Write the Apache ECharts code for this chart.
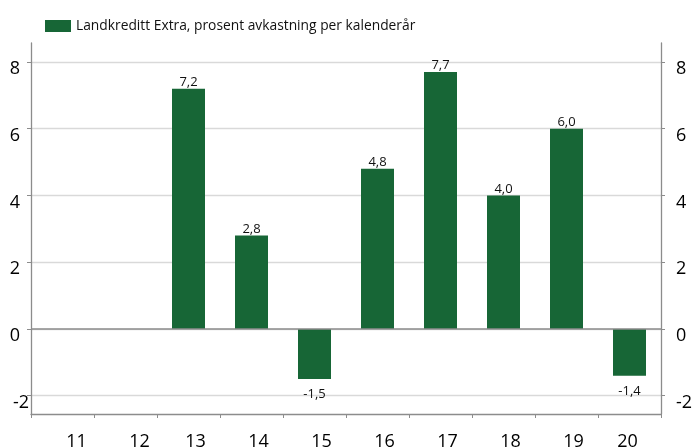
<!DOCTYPE html>
<html><head><meta charset="utf-8">
<script src="https://cdn.jsdelivr.net/npm/echarts@6/dist/echarts.min.js"></script>
<style>html,body{margin:0;padding:0;background:#fff}#c{width:692px;height:447px}</style>
</head><body><div id="c"></div>
<script>
var categories = ['11','12','13','14','15','16','17','18','19','20'];
var values = [null, null, 7.2, 2.8, -1.5, 4.8, 7.7, 4.0, 6.0, -1.4];
var yTicks = [-2, 0, 2, 4, 6, 8];
var seriesName = 'Landkreditt Extra, prosent avkastning per kalenderår';

var FONT = '"Open Sans", "Noto Sans", sans-serif';
var chart = echarts.init(document.getElementById('c'), null, {renderer: 'canvas'});
var AX = '#8c8c8c';
function yAxisDef(pos) {
  var left = pos === 'left';
  return {
    type: 'value', min: -2.55, max: 8.57, position: pos,
    axisLine: {show: true, onZero: false, lineStyle: {color: AX, width: 1.3}},
    axisTick: {show: true, length: 4, customValues: yTicks, lineStyle: {color: AX}},
    axisLabel: {
      customValues: yTicks, margin: left ? 2 : 15,
      formatter: function (v) {
        if (!left) return '{n|' + v + '}';
        return v === -2 ? '{m|' + v + '}' : '{n|' + v + '}';
      },
      rich: {
        n: {color: '#000', fontSize: 18, fontFamily: FONT, padding: left ? [14, 9, 0, 0] : [14, 0, 0, 0]},
        m: {color: '#000', fontSize: 18, fontFamily: FONT, padding: [14, 0, 0, 0]}
      }
    },
    splitLine: left ? {show: true, showMinLine: true,
      lineStyle: {color: '#d9d9d9', width: 1.3}} : {show: false}
  };
}
var lastIdx = categories.length - 1;
chart.setOption({
  animation: false,
  textStyle: {fontFamily: FONT},
  legend: {
    left: 40, top: 14, itemWidth: 26, itemHeight: 12, itemGap: 12,
    textStyle: {fontSize: 13.8, color: '#111', fontFamily: FONT},
    data: [{name: seriesName, icon: 'rect'}]
  },
  grid: {left: 31, right: 31, top: 43, bottom: 33, containLabel: false, outerBoundsMode: 'none'},
  xAxis: {
    type: 'category', data: categories,
    axisLine: {show: true, onZero: false, lineStyle: {color: AX, width: 1.3}},
    axisTick: {show: true, length: 4, alignWithLabel: false, lineStyle: {color: AX}},
    axisLabel: {
      margin: 19, interval: 0,
      formatter: function (v, i) {
        if (i < 2) return '{f|' + v + '}';
        if (i === lastIdx) return '{l|' + v + '}';
        return '{m|' + v + '}';
      },
      rich: {
        f: {color: '#000', fontSize: 18, fontFamily: FONT, padding: [0, 0, 0, 28]},
        m: {color: '#000', fontSize: 18, fontFamily: FONT, padding: [0, 0, 0, 14]},
        l: {color: '#000', fontSize: 18, fontFamily: FONT, padding: [0, 4, 0, 0]}
      }
    }
  },
  yAxis: [yAxisDef('left'), yAxisDef('right')],
  series: [{
    name: seriesName, type: 'bar', yAxisIndex: 0,
    data: values.map(function (v) {
      if (v != null && v < 0) return {value: v, label: {position: 'bottom', distance: 9}};
      return v;
    }),
    barWidth: 33,
    itemStyle: {color: '#176636'},
    label: {
      show: true, fontSize: 13, color: '#111', fontFamily: FONT,
      position: 'top', distance: 0,
      formatter: function (p) { return p.value == null ? '' : p.value.toFixed(1).replace('.', ','); }
    },
    markLine: {
      silent: true, symbol: 'none', label: {show: false},
      lineStyle: {color: AX, width: 1.5, type: 'solid'},
      data: [{yAxis: 0}]
    }
  }]
});
</script></body></html>
